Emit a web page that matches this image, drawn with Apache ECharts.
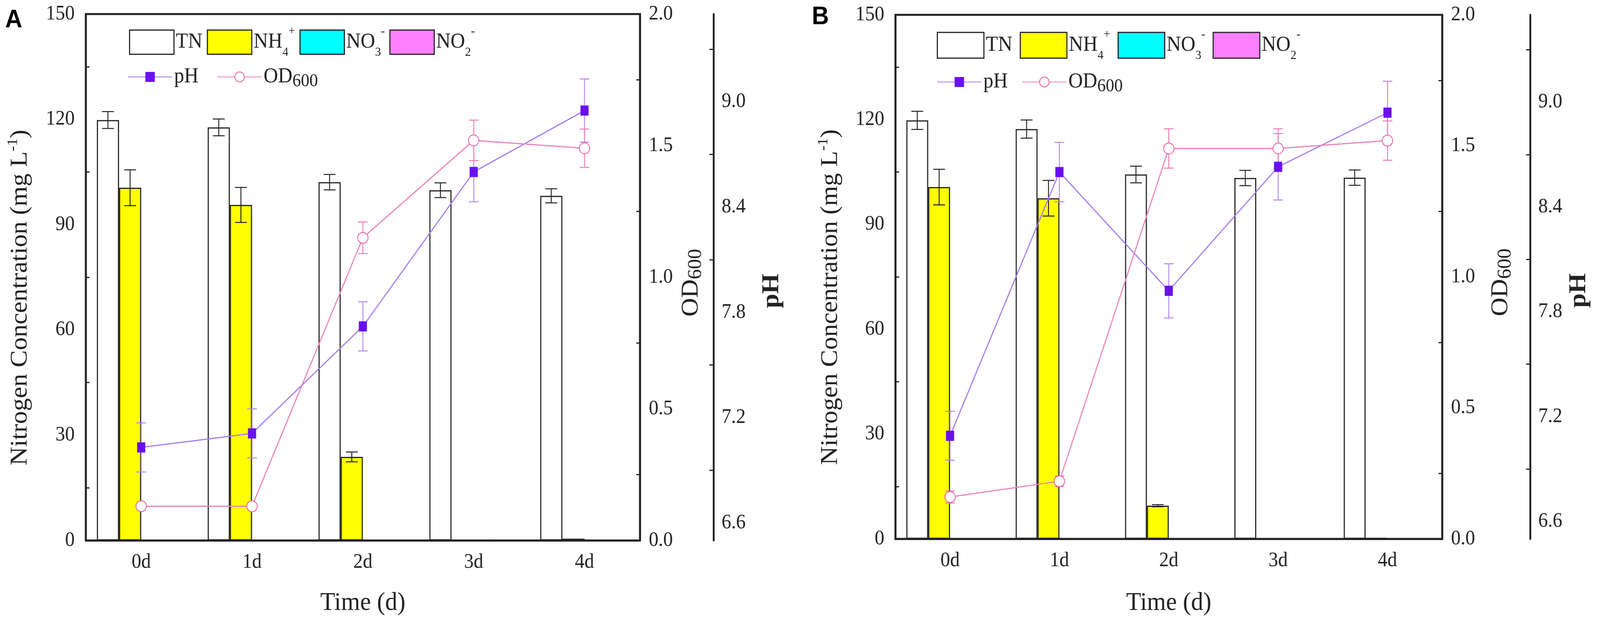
<!DOCTYPE html>
<html>
<head>
<meta charset="utf-8">
<title>Nitrogen, pH and OD600 over time</title>
<script src="https://cdn.jsdelivr.net/npm/echarts@6/dist/echarts.min.js"></script>
<style>
  html, body { margin: 0; padding: 0; background: #fff; overflow: hidden; }
  #chart { width: 4328px; height: 1598px; transform-origin: 0 0; }
</style>
</head>
<body>
<div id="chart"></div>
<script>
// categories
var days = ['0d', '1d', '2d', '3d', '4d'];

// panel A
var tnA = [119.8, 117.7, 102.1, 99.8, 98.2];
var tnErrA = [2.4, 2.4, 2.2, 2.1, 2.0];
var nh4A = [100.5, 95.6, 23.8, 0, 0.5];
var nh4ErrA = [5.1, 5.0, 1.4, 0, 0];
var no3A = [0, 0, 0, 0, 0];
var no2A = [0, 0, 0, 0, 0];
var phA = [7.03, 7.11, 7.72, 8.60, 8.95];
var phErrA = [0.14, 0.14, 0.14, 0.17, 0.18];
var odA = [0.13, 0.13, 1.15, 1.52, 1.49];
var odErrA = [0.01, 0.01, 0.06, 0.077, 0.073];

// panel B
var tnB = [119.8, 117.3, 104.3, 103.3, 103.4];
var tnErrB = [2.6, 2.6, 2.4, 2.2, 2.2];
var nh4B = [100.7, 97.5, 9.5, 0, 0.3];
var nh4ErrB = [5.1, 5.1, 0.3, 0, 0];
var no3B = [0, 0, 0, 0, 0];
var no2B = [0, 0, 0, 0, 0];
var phB = [7.09, 8.60, 7.92, 8.63, 8.94];
var phErrB = [0.14, 0.17, 0.155, 0.19, 0.18];
var odB = [0.16, 0.22, 1.49, 1.49, 1.52];
var odErrB = [0.023, 0.02, 0.075, 0.075, 0.075];

// axis ticks
var phLabels = [6.6, 7.2, 7.8, 8.4, 9.0];
var phMinor = [6.9, 7.5, 8.1, 8.7, 9.3];

var SERIF = '"Liberation Serif", "Times New Roman", serif';
var INK = '#222';

// the layout is drawn for 4328x1598; stretch it onto whatever viewport we get
var box = document.getElementById('chart');
var vw = Math.min(window.innerWidth || 4328, document.documentElement.clientWidth || 4328);
var vh = Math.min(window.innerHeight || 1598, document.documentElement.clientHeight || 1598);
var sx = vw / 4328, sy = vh / 1598;
if (Math.abs(sx - 1) > 0.002 || Math.abs(sy - 1) > 0.002) {
  box.style.transform = 'scale(' + sx + ',' + sy + ')';
}

var chart = echarts.init(box);

// [index, low, high] for every point that has an error bar
function errData(vals, errs) {
  var out = [];
  for (var i = 0; i < vals.length; i++) {
    if (errs[i] > 0) out.push([i, vals[i] - errs[i], vals[i] + errs[i]]);
  }
  return out;
}

// shift is in bands, so the bar error sits on its own bar
function errorBars(shift, cap, color) {
  return function (params, api) {
    var i = api.value(0);
    var lo = api.coord([i, api.value(1)]);
    var hi = api.coord([i, api.value(2)]);
    var band = api.size([1, 0])[0];
    var x = lo[0] + shift * band;
    var h = cap / 2;
    function seg(x1, y1, x2, y2) {
      return { type: 'line', shape: { x1: x1, y1: y1, x2: x2, y2: y2 },
               style: { stroke: color, lineWidth: 2.5 } };
    }
    return {
      type: 'group',
      children: [seg(x, lo[1], x, hi[1]), seg(x - h, lo[1], x + h, lo[1]), seg(x - h, hi[1], x + h, hi[1])]
    };
  };
}

var legendText = {
  'TN': '{n|TN}',
  'NH4+': '{n|NH}{sub|4}{sup|+}',
  'NO3-': '{n|NO}{sub|3}{sup|-}',
  'NO2-': '{n|NO}{sub|2}{sup|-}',
  'pH': '{n|pH}',
  'OD600': '{n|OD}{sub|600}'
};
function legendFmt(name) { return legendText[name]; }

var barRich = {
  n: { fontFamily: SERIF, fontSize: 54, color: INK, lineHeight: 86 },
  sub: { fontFamily: SERIF, fontSize: 32, color: INK, lineHeight: 30, verticalAlign: 'bottom' },
  sup: { fontFamily: SERIF, fontSize: 32, color: INK, lineHeight: 30, verticalAlign: 'top' }
};
var lineRich = {
  n: { fontFamily: SERIF, fontSize: 54, color: INK, lineHeight: 70 },
  sub: { fontFamily: SERIF, fontSize: 46, color: INK, lineHeight: 46, verticalAlign: 'bottom' }
};

var panels = [
  {
    grid: { left: 232, top: 36, width: 1499, height: 1348 },
    phOffset: 199, leftGap: 137, odGap: 101, phGap: 123, xGap: 126,
    tn: tnA, tnErr: tnErrA, nh4: nh4A, nh4Err: nh4ErrA, no3: no3A, no2: no2A,
    ph: phA, phErr: phErrA, od: odA, odErr: odErrA,
    barLegend: { left: 349, top: 65, itemWidth: 120, itemHeight: 62, itemGap: 12 },
    lineLegend: { left: 345, top: 170, itemGap: 50 }
  },
  {
    grid: { left: 2422, top: 38, width: 1479, height: 1342 },
    phOffset: 238, leftGap: 135, odGap: 121, phGap: 97, xGap: 130,
    tn: tnB, tnErr: tnErrB, nh4: nh4B, nh4Err: nh4ErrB, no3: no3B, no2: no2B,
    ph: phB, phErr: phErrB, od: odB, odErr: odErrB,
    barLegend: { left: 2534, top: 73, itemWidth: 126, itemHeight: 66, itemGap: 20 },
    lineLegend: { left: 2534, top: 183, itemGap: 38 }
  }
];

var grids = [], xAxes = [], yAxes = [], series = [], legends = [];
var axisLine = { show: true, lineStyle: { color: INK, width: 5 } };
var tickLine = { color: INK, width: 3 };
var tickLabel = { fontFamily: SERIF, fontSize: 52, color: INK };
var nameStyle = { fontFamily: SERIF, fontSize: 66, color: INK };

panels.forEach(function (p, k) {
  var g = p.grid;
  grids.push({ left: g.left, top: g.top, width: g.width, height: g.height,
               containLabel: false, outerBoundsMode: 'none',
               show: true, borderColor: INK, borderWidth: 5, backgroundColor: 'transparent' });

  xAxes.push({
    type: 'category', gridIndex: k, data: days,
    axisLine: axisLine,
    axisTick: { inside: true, alignWithLabel: true, length: 20, lineStyle: tickLine },
    axisLabel: Object.assign({ margin: 30 }, tickLabel),
    name: 'Time (d)', nameLocation: 'middle', nameGap: p.xGap,
    nameTextStyle: Object.assign({ lineHeight: 70 }, nameStyle)
  });

  var base = yAxes.length;
  // nitrogen concentration
  yAxes.push({
    type: 'value', gridIndex: k, position: 'left', min: 0, max: 150, interval: 30,
    axisLine: axisLine, splitLine: { show: false },
    axisTick: { inside: true, length: 20, lineStyle: tickLine },
    minorTick: { show: true, splitNumber: 2, length: 10, lineStyle: tickLine },
    axisLabel: Object.assign({ margin: 30 }, tickLabel),
    name: 'Nitrogen Concentration (mg L{sup|-1})', nameLocation: 'middle', nameGap: p.leftGap, nameRotate: 90,
    nameTextStyle: Object.assign({ lineHeight: 80, padding: [0, 104, 0, 0],
      rich: { sup: { fontFamily: SERIF, fontSize: 40, lineHeight: 40, verticalAlign: 'top', color: INK } } }, nameStyle)
  });
  // OD600
  yAxes.push({
    type: 'value', gridIndex: k, position: 'right', min: 0, max: 2, interval: 0.5,
    axisLine: axisLine, splitLine: { show: false },
    axisTick: { inside: true, length: 20, lineStyle: tickLine },
    minorTick: { show: true, splitNumber: 2, length: 10, lineStyle: tickLine },
    axisLabel: Object.assign({ margin: 24, formatter: function (v) { return v.toFixed(1); } }, tickLabel),
    name: 'OD{sub|600}', nameLocation: 'middle', nameGap: p.odGap, nameRotate: 90,
    nameTextStyle: Object.assign({ lineHeight: 76, padding: [0, 28, 0, 0],
      rich: { sub: { fontFamily: SERIF, fontSize: 52, lineHeight: 50, verticalAlign: 'bottom', color: INK } } }, nameStyle)
  });
  // pH
  yAxes.push({
    type: 'value', gridIndex: k, position: 'right', offset: p.phOffset, min: 6.5, max: 9.5,
    axisLine: axisLine, splitLine: { show: false },
    axisTick: { inside: true, length: 22, lineStyle: tickLine, customValues: phLabels },
    axisLabel: Object.assign({ margin: 22, customValues: phLabels,
      formatter: function (v) { return v.toFixed(1); } }, tickLabel),
    name: 'pH', nameLocation: 'middle', nameGap: p.phGap, nameRotate: 90,
    nameTextStyle: Object.assign({}, nameStyle, { fontWeight: 'bold', lineHeight: 70, padding: [0, 70, 0, 0] })
  });
  // pH minor ticks
  yAxes.push({
    type: 'value', gridIndex: k, position: 'right', offset: p.phOffset, min: 6.5, max: 9.5,
    axisLine: { show: false }, splitLine: { show: false }, axisLabel: { show: false },
    axisTick: { show: true, inside: true, length: 11, lineStyle: tickLine, customValues: phMinor }
  });

  function bar(name, data, color) {
    return {
      type: 'bar', name: name, xAxisIndex: k, yAxisIndex: base, data: data,
      barGap: '0%', barCategoryGap: '20%', z: 2,
      itemStyle: { color: color, borderColor: INK, borderWidth: 3 }
    };
  }
  series.push(bar('TN', p.tn, '#ffffff'));
  series.push(bar('NH4+', p.nh4, '#ffff00'));
  series.push(bar('NO3-', p.no3, '#00ffff'));
  series.push(bar('NO2-', p.no2, '#ff80ff'));

  series.push({ type: 'custom', xAxisIndex: k, yAxisIndex: base, z: 3, silent: true,
    renderItem: errorBars(-0.3, 32, INK), data: errData(p.tn, p.tnErr) });
  series.push({ type: 'custom', xAxisIndex: k, yAxisIndex: base, z: 3, silent: true,
    renderItem: errorBars(-0.1, 32, INK), data: errData(p.nh4, p.nh4Err) });

  series.push({ type: 'custom', xAxisIndex: k, yAxisIndex: base + 2, z: 4, silent: true,
    renderItem: errorBars(0, 26, '#b584f4'), data: errData(p.ph, p.phErr) });
  series.push({ type: 'custom', xAxisIndex: k, yAxisIndex: base + 1, z: 4, silent: true,
    renderItem: errorBars(0, 26, '#ec7ab6'), data: errData(p.od, p.odErr) });

  series.push({
    type: 'line', name: 'pH', xAxisIndex: k, yAxisIndex: base + 2, data: p.ph, z: 6,
    symbol: 'rect', symbolSize: [22, 26],
    itemStyle: { color: '#6a10f0' }, lineStyle: { color: '#a57cf0', width: 3 }
  });
  series.push({
    type: 'line', name: 'OD600', xAxisIndex: k, yAxisIndex: base + 1, data: p.od, z: 6,
    symbol: 'emptyCircle', symbolSize: 28,
    itemStyle: { color: '#e8559c', borderWidth: 3 }, lineStyle: { color: '#ec82b9', width: 3 }
  });

  legends.push(Object.assign({
    data: ['TN', 'NH4+', 'NO3-', 'NO2-'], padding: 0, icon: 'rect', selectedMode: false,
    itemStyle: { borderColor: INK, borderWidth: 3 },
    formatter: legendFmt, textStyle: { rich: barRich }
  }, p.barLegend));
  legends.push(Object.assign({
    data: ['pH', 'OD600'], padding: 0, selectedMode: false,
    itemWidth: 120, itemHeight: 32,
    formatter: legendFmt, textStyle: { rich: lineRich }
  }, p.lineLegend));
});

var option = {
  animation: false,
  backgroundColor: '#fff',
  grid: grids,
  xAxis: xAxes,
  yAxis: yAxes,
  legend: legends,
  series: series,
  graphic: [
    { type: 'text', left: 14, top: 20, style: { text: 'A', font: 'bold 64px "Liberation Sans"', fill: '#000' } },
    { type: 'text', left: 2196, top: 12, style: { text: 'B', font: 'bold 64px "Liberation Sans"', fill: '#000' } }
  ]
};

chart.setOption(option);
</script>
</body>
</html>
